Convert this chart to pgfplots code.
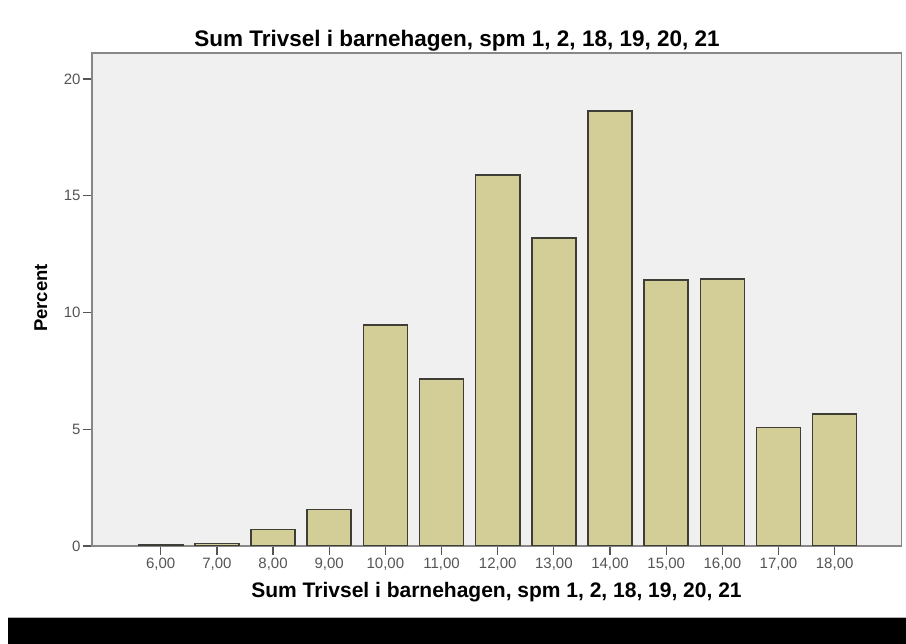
\documentclass[border=0pt]{standalone}
\usepackage{pgfplots}
\pgfplotsset{compat=1.18}
\usepackage{fontspec}
\setmainfont{Liberation Sans}
\definecolor{bgc}{RGB}{240,240,240}
\definecolor{barc}{RGB}{211,206,152}
\definecolor{bare}{RGB}{62,62,55}
\definecolor{framec}{RGB}{135,135,135}
\definecolor{tickc}{RGB}{85,85,85}
\begin{document}
\begin{tikzpicture}
\path[use as bounding box] (0,0) rectangle (906bp,644bp);
\fill[white] (0,0) rectangle (906bp,644bp);
\fill[black] (8bp,0) rectangle (906bp,27bp);
\draw[gray!60, line width=0.8bp] (8bp,27bp) -- (906bp,27bp);
\begin{axis}[
  at={(92bp,98bp)}, anchor=south west,
  scale only axis, width=809.5bp, height=493bp,
  xmin=4.776, xmax=19.19, ymin=0, ymax=21.11,
  axis background/.style={fill=bgc},
  axis line style={draw=framec, line width=1.6bp},
  xtick={6,7,8,9,10,11,12,13,14,15,16,17,18},
  xticklabels={{6,00},{7,00},{8,00},{9,00},{10,00},{11,00},{12,00},{13,00},{14,00},{15,00},{16,00},{17,00},{18,00}},
  ytick={0,5,10,15,20},
  tick pos=left, tick align=outside,
  major tick length=9bp,
  tick style={draw=tickc, line width=1.2bp},
  ticklabel style={font=\fontsize{15bp}{17bp}\selectfont, text=tickc},
  yticklabel style={xshift=1bp},
  /pgf/number format/assume math mode=true,
]
\addplot[ybar, bar width=0.784, bar shift=0pt, fill=barc, draw=bare, line width=1.6bp]
coordinates {(6,0.07) (7,0.1) (8,0.71) (9,1.57) (10,9.46) (11,7.15) (12,15.89) (13,13.2) (14,18.62) (15,11.39) (16,11.42) (17,5.08) (18,5.64)};
\end{axis}
\node[anchor=base, font=\bfseries\fontsize{22.5bp}{26bp}\selectfont] at (457bp,597bp) {Sum Trivsel i barnehagen, spm 1, 2, 18, 19, 20, 21};
\node[anchor=base, font=\bfseries\fontsize{21bp}{24bp}\selectfont] at (496.5bp,46bp) {Sum Trivsel i barnehagen, spm 1, 2, 18, 19, 20, 21};
\node[anchor=base, rotate=90, font=\bfseries\fontsize{18.5bp}{21bp}\selectfont] at (47bp,346bp) {Percent};
\end{tikzpicture}
\end{document}
